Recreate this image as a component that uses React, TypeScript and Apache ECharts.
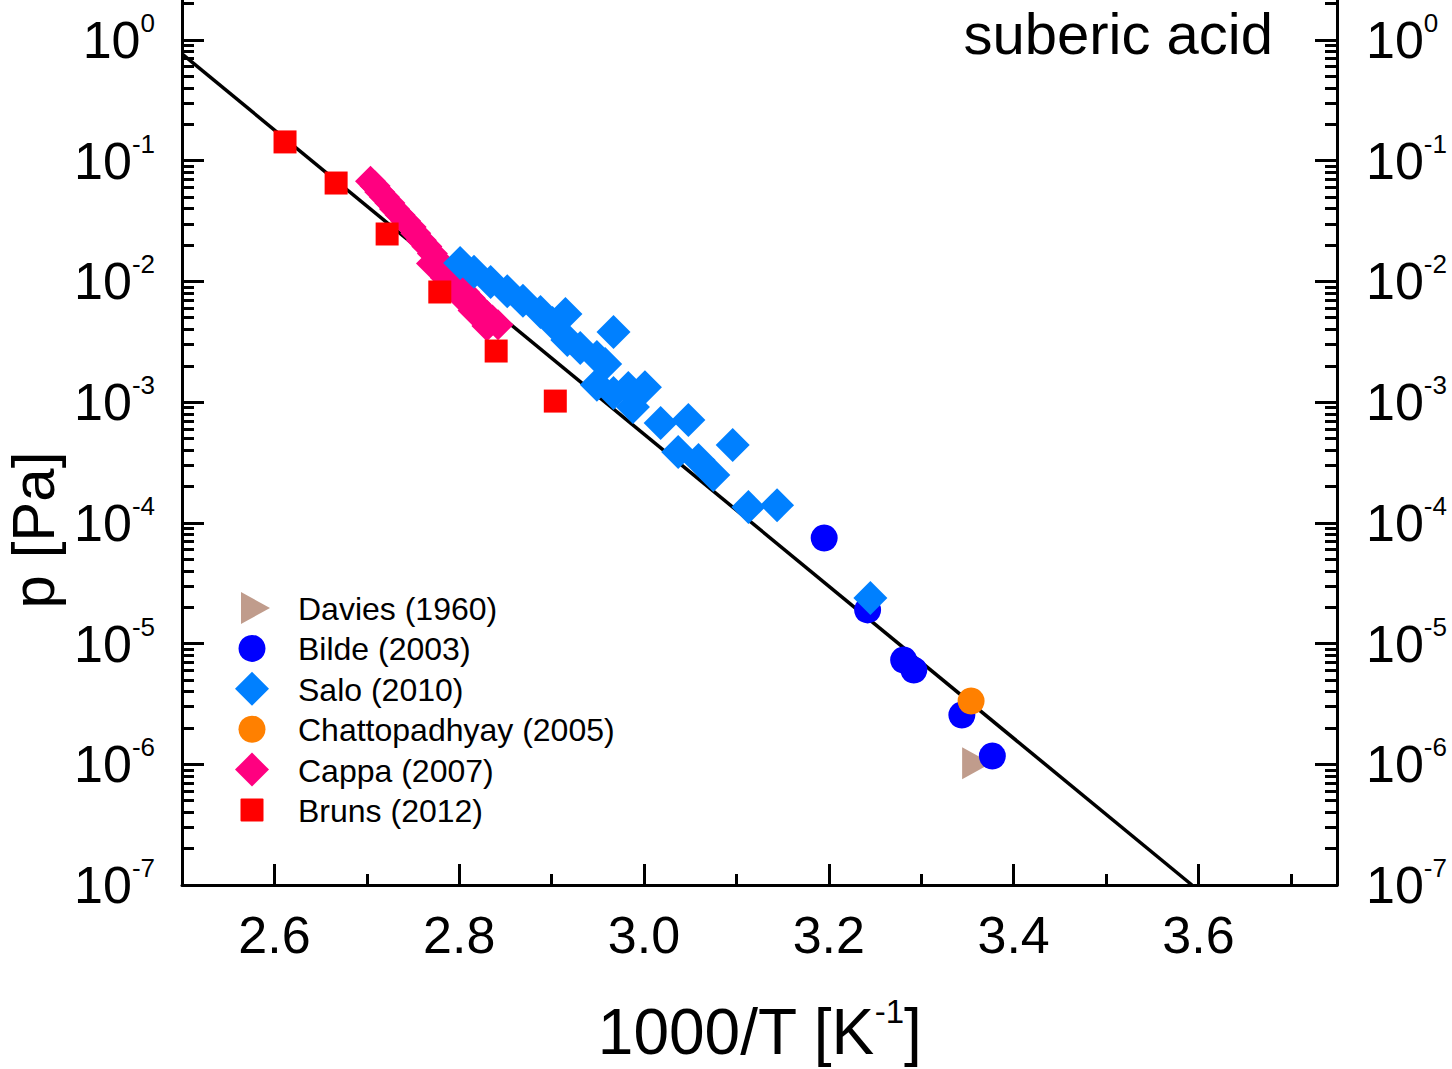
import React, { useEffect, useRef } from 'react';
import * as echarts from 'echarts';

const FONT = '"Liberation Sans", Arial, Helvetica, sans-serif';

// ---- axis ticks ----
const xMajorTicks = [2.6, 2.8, 3.0, 3.2, 3.4, 3.6];
const xMinorTicks = [2.5, 2.7, 2.9, 3.1, 3.3, 3.5, 3.7];
const yDecadeExponents = [-7, -6, -5, -4, -3, -2, -1, 0];
const yMinorMultipliers = [2, 3, 4, 5, 6, 7, 8, 9];

// ---- data: [1000/T (1/K), p (Pa)] ----
const daviesData = [[3.36, 1.02e-6]];
const bildeData = [
  [3.195, 7.48e-5], [3.242, 1.9e-5], [3.281, 7.3e-6], [3.292, 6.03e-6], [3.344, 2.56e-6], [3.377, 1.17e-6],
];
const saloData = [
  [2.801, 1.42e-2], [2.816, 1.2e-2], [2.834, 9.9e-3], [2.852, 8.3e-3], [2.869, 6.9e-3], [2.888, 5.57e-3],
  [2.901, 4.52e-3], [2.915, 5.37e-3], [2.917, 3.27e-3], [2.931, 2.81e-3], [2.949, 2.37e-3], [2.958, 2.07e-3],
  [2.949, 1.39e-3], [2.967, 1.19e-3], [2.983, 1.31e-3], [3.001, 1.33e-3], [2.988, 9.1e-4], [3.018, 6.7e-4],
  [3.048, 7.1e-4], [3.037, 3.86e-4], [3.059, 3.31e-4], [3.075, 2.49e-4], [3.096, 4.42e-4], [3.113, 1.35e-4],
  [3.144, 1.4e-4], [2.967, 3.81e-3], [3.245, 2.38e-5],
];
const chattopadhyayData = [[3.354, 3.34e-6]];
const cappaData = [
  [2.704, 0.0676], [2.709, 0.0617], [2.714, 0.055], [2.719, 0.0501], [2.725, 0.0447], [2.73, 0.0398],
  [2.736, 0.0355], [2.742, 0.0316], [2.748, 0.0282], [2.753, 0.0251], [2.759, 0.0219], [2.765, 0.0195],
  [2.771, 0.017], [2.776, 0.0151], [2.782, 0.0135], [2.788, 0.0117], [2.794, 0.0105], [2.8, 0.00912],
  [2.806, 0.00813], [2.812, 0.00724], [2.818, 0.00646], [2.824, 0.00575], [2.83, 0.00525], [2.836, 0.00479],
  [2.842, 0.00437], [2.77, 0.0141], [2.785, 0.0107], [2.8, 0.00776], [2.815, 0.00575], [2.83, 0.00427],
];
const brunsData = [
  [2.6115, 0.143], [2.6668, 0.0653], [2.722, 0.0247], [2.779, 0.00817], [2.84, 0.00265], [2.904, 0.00102],
];
const fitLineData = [[2.5, 0.766], [3.593, 1.0e-7]];

const legendItems = [
  { name: 'Davies (1960)', color: '#C09C8C', shape: 'triangle' },
  { name: 'Bilde (2003)', color: '#0000FF', shape: 'circle' },
  { name: 'Salo (2010)', color: '#0080FF', shape: 'diamond' },
  { name: 'Chattopadhyay (2005)', color: '#FF8000', shape: 'circle' },
  { name: 'Cappa (2007)', color: '#FF0080', shape: 'diamond' },
  { name: 'Bruns (2012)', color: '#FF0000', shape: 'square' },
];

const toLog = (d: number[][]) => d.map(([x, p]) => [x, Math.log10(p)]);

const Y_MIN = -7;
const Y_MAX = 0.331;
const X_MIN = 2.5;
const X_MAX = 3.75;

export default function App() {
  const ref = useRef<HTMLDivElement>(null);

  useEffect(() => {
    if (!ref.current) return;
    const chart = echarts.init(ref.current, undefined, { renderer: 'svg' });

    const yMinor: number[] = [];
    yDecadeExponents.forEach((e) => {
      yMinorMultipliers.forEach((m) => {
        const v = e + Math.log10(m);
        if (v <= Y_MAX) yMinor.push(v);
      });
    });

    const labelRich = {
      b: { fontSize: 52, fontFamily: FONT, color: '#000', lineHeight: 60, verticalAlign: 'middle' },
      s: { fontSize: 26, fontFamily: FONT, color: '#000', lineHeight: 26, verticalAlign: 'top' },
    };
    const yFmt = (v: number) => `{b|10}{s|${Math.round(v)}}`;

    const majorY = (position: 'left' | 'right') => ({
      type: 'value',
      position,
      min: Y_MIN,
      max: Y_MAX,
      axisLine: { show: true, onZero: false, lineStyle: { color: '#000', width: 3 } },
      axisTick: { show: true, inside: true, length: 22, lineStyle: { color: '#000', width: 3 }, customValues: yDecadeExponents },
      axisLabel: { show: true, margin: position === 'left' ? 27 : 29, customValues: yDecadeExponents, formatter: yFmt, rich: labelRich },
      splitLine: { show: false },
    });
    const minorY = (position: 'left' | 'right') => ({
      type: 'value',
      position,
      min: Y_MIN,
      max: Y_MAX,
      axisLine: { show: false, onZero: false },
      axisTick: { show: true, inside: true, length: 12, lineStyle: { color: '#000', width: 3 }, customValues: yMinor },
      axisLabel: { show: false },
      splitLine: { show: false },
    });

    const symbolSeries = (name: string, data: number[][], symbol: string, size: any, color: string, z: number, extra: any = {}) => ({
      name,
      type: 'scatter',
      data: toLog(data),
      symbol,
      symbolSize: size,
      itemStyle: { color, opacity: 1 },
      z,
      xAxisIndex: 0,
      yAxisIndex: 0,
      ...extra,
    });

    const graphics: any[] = [
      {
        type: 'text',
        x: 33,
        y: 530,
        rotation: Math.PI / 2,
        style: { text: 'p [Pa]', fontSize: 60, lineHeight: 52, fontFamily: FONT, fill: '#000', align: 'center', verticalAlign: 'middle' },
      },
      {
        type: 'text',
        x: 1273,
        y: 33,
        style: { text: 'suberic acid', fontSize: 58, lineHeight: 50, fontFamily: FONT, fill: '#000', align: 'right', verticalAlign: 'middle' },
      },
    ];

    const lx = 252;
    const ly0 = 608;
    const lgap = 40.4;
    legendItems.forEach((it, i) => {
      const cy = ly0 + i * lgap;
      let shape: any;
      if (it.shape === 'triangle') {
        shape = { type: 'polygon', shape: { points: [[lx - 11, cy - 16], [lx + 18, cy], [lx - 11, cy + 16]] }, style: { fill: it.color } };
      } else if (it.shape === 'circle') {
        shape = { type: 'circle', shape: { cx: lx, cy, r: 13.5 }, style: { fill: it.color } };
      } else if (it.shape === 'diamond') {
        shape = { type: 'polygon', shape: { points: [[lx, cy - 17], [lx + 17, cy], [lx, cy + 17], [lx - 17, cy]] }, style: { fill: it.color } };
      } else {
        shape = { type: 'rect', shape: { x: lx - 11.5, y: cy - 11.5, width: 23, height: 23, r: 1 }, style: { fill: it.color } };
      }
      graphics.push(shape);
      graphics.push({
        type: 'text',
        x: 298,
        y: cy + 1,
        style: { text: it.name, fontSize: 32, fontFamily: FONT, fill: '#000', align: 'left', verticalAlign: 'middle' },
      });
    });

    const option: any = {
      animation: false,
      backgroundColor: '#fff',
      grid: { left: 182, right: 115, top: 0, bottom: 184, containLabel: false },
      xAxis: [
        {
          type: 'value',
          position: 'bottom',
          min: X_MIN,
          max: X_MAX,
          axisLine: { show: true, onZero: false, lineStyle: { color: '#000', width: 3 } },
          axisTick: { show: true, inside: true, length: 21, lineStyle: { color: '#000', width: 3 }, customValues: xMajorTicks },
          axisLabel: {
            show: true,
            customValues: xMajorTicks,
            formatter: (v: number) => v.toFixed(1),
            fontSize: 52,
            fontFamily: FONT,
            color: '#000',
            margin: 24,
          },
          splitLine: { show: false },
          name: '{a|1000/T [K}{s|-1}{a|]}',
          nameLocation: 'middle',
          nameGap: 110,
          nameTextStyle: {
            rich: {
              a: { fontSize: 64, fontFamily: FONT, color: '#000', lineHeight: 74, verticalAlign: 'middle' },
              s: { fontSize: 33, fontFamily: FONT, color: '#000', lineHeight: 33, verticalAlign: 'top' },
            },
          },
        },
        {
          type: 'value',
          position: 'bottom',
          min: X_MIN,
          max: X_MAX,
          axisLine: { show: false, onZero: false },
          axisTick: { show: true, inside: true, length: 11, lineStyle: { color: '#000', width: 3 }, customValues: xMinorTicks },
          axisLabel: { show: false },
          splitLine: { show: false },
        },
      ],
      yAxis: [majorY('left'), minorY('left'), majorY('right'), minorY('right')],
      series: [
        {
          name: 'fit',
          type: 'line',
          data: toLog(fitLineData),
          symbol: 'none',
          lineStyle: { color: '#000', width: 3.5 },
          clip: true,
          z: 1,
          xAxisIndex: 0,
          yAxisIndex: 0,
        },
        symbolSeries('Davies (1960)', daviesData, 'triangle', [32, 29], '#C09C8C', 2, { symbolRotate: -90 }),
        symbolSeries('Bilde (2003)', bildeData, 'circle', 27, '#0000FF', 3),
        symbolSeries('Cappa (2007)', cappaData, 'diamond', 31, '#FF0080', 4),
        symbolSeries('Salo (2010)', saloData, 'diamond', 34, '#0080FF', 5),
        symbolSeries('Chattopadhyay (2005)', chattopadhyayData, 'circle', 27, '#FF8000', 6),
        symbolSeries('Bruns (2012)', brunsData, 'rect', 23, '#FF0000', 7),
      ],
      graphic: graphics,
    };

    chart.setOption(option);
    return () => chart.dispose();
  }, []);

  return (
    <div
      ref={ref}
      style={{ position: 'fixed', left: 0, top: 0, width: '1452px', height: '1069px', background: '#fff' }}
    />
  );
}
